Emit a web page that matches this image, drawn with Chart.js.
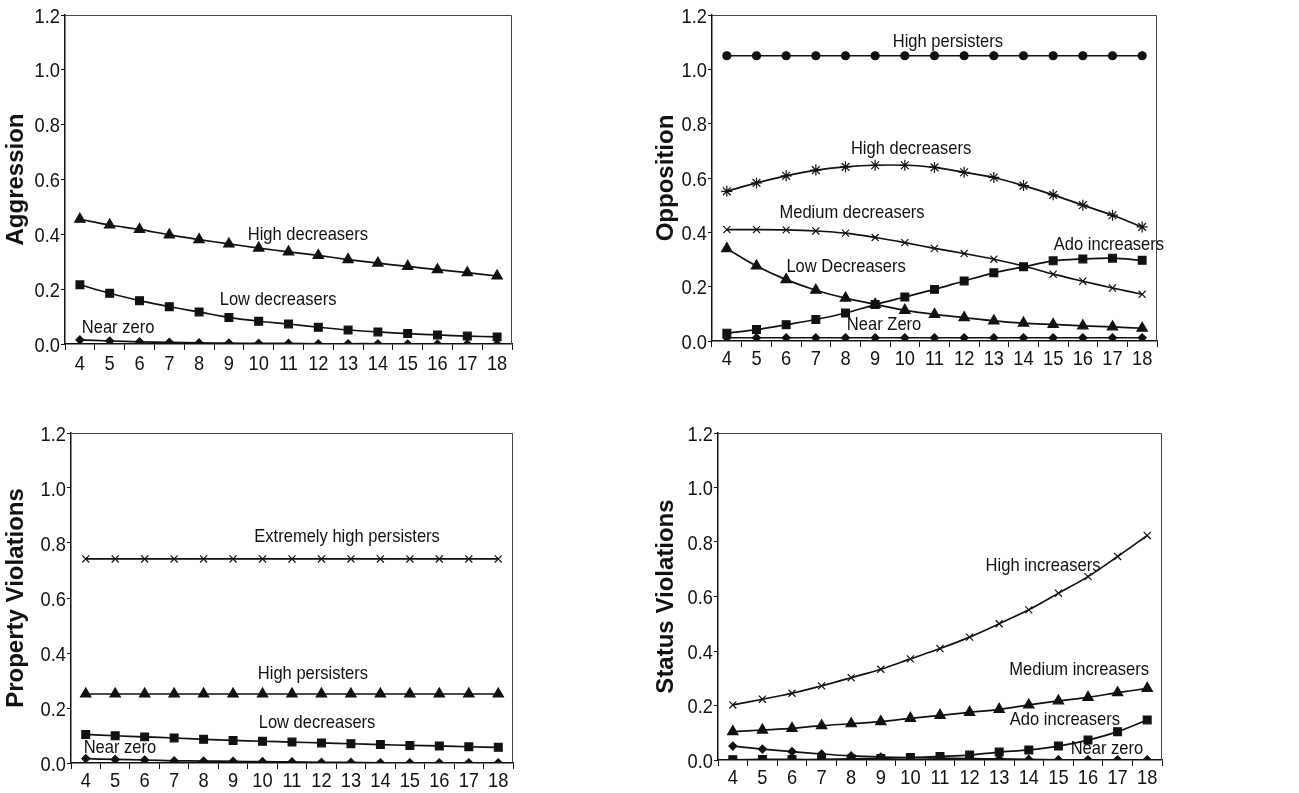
<!DOCTYPE html>
<html>
<head>
<meta charset="utf-8">
<script src="https://cdn.jsdelivr.net/npm/chart.js@4.4.1/dist/chart.umd.min.js"></script>
<style>
  html, body { margin: 0; padding: 0; background: #fff; }
  body { width: 1299px; height: 793px; position: relative; overflow: hidden; }
  .panel { position: absolute; }
</style>
</head>
<body>
<div class="panel" style="left:0;top:0"><canvas id="aggressionChart" width="650" height="400"></canvas></div>
<div class="panel" style="left:650px;top:0"><canvas id="oppositionChart" width="649" height="400"></canvas></div>
<div class="panel" style="left:0;top:400px"><canvas id="propertyChart" width="650" height="393"></canvas></div>
<div class="panel" style="left:650px;top:400px"><canvas id="statusChart" width="649" height="393"></canvas></div>

<script>
const ages = ['4', '5', '6', '7', '8', '9', '10', '11', '12', '13', '14', '15', '16', '17', '18'];
const yTicks = [0, 0.2, 0.4, 0.6, 0.8, 1.0, 1.2];

// Aggression
const aggHighDecreasers = [0.455, 0.434, 0.418, 0.398, 0.381, 0.365, 0.350, 0.336, 0.323, 0.308, 0.295, 0.283, 0.271, 0.260, 0.248];
const aggLowDecreasers = [0.216, 0.185, 0.158, 0.136, 0.117, 0.097, 0.083, 0.073, 0.061, 0.051, 0.044, 0.038, 0.033, 0.029, 0.026];
const aggNearZero = [0.015, 0.011, 0.008, 0.006, 0.004, 0.003, 0.002, 0.002, 0.001, 0.001, 0.001, 0, 0, 0, 0];

// Opposition
const oppHighPersisters = [1.05, 1.05, 1.05, 1.05, 1.05, 1.05, 1.05, 1.05, 1.05, 1.05, 1.05, 1.05, 1.05, 1.05, 1.05];
const oppHighDecreasers = [0.551, 0.582, 0.608, 0.629, 0.641, 0.647, 0.647, 0.639, 0.621, 0.602, 0.572, 0.538, 0.500, 0.463, 0.420];
const oppMediumDecreasers = [0.410, 0.410, 0.409, 0.405, 0.397, 0.381, 0.362, 0.341, 0.322, 0.301, 0.276, 0.246, 0.220, 0.195, 0.172];
const oppLowDecreasers = [0.340, 0.276, 0.226, 0.187, 0.158, 0.135, 0.113, 0.098, 0.086, 0.074, 0.066, 0.061, 0.056, 0.052, 0.047];
const oppAdoIncreasers = [0.029, 0.042, 0.060, 0.079, 0.103, 0.134, 0.162, 0.190, 0.221, 0.251, 0.273, 0.295, 0.302, 0.305, 0.297];
const oppNearZero = [0.012, 0.012, 0.012, 0.012, 0.012, 0.012, 0.012, 0.012, 0.012, 0.012, 0.012, 0.012, 0.012, 0.012, 0.012];

// Property violations
const propExtremelyHigh = [0.742, 0.742, 0.742, 0.742, 0.742, 0.742, 0.742, 0.742, 0.742, 0.742, 0.742, 0.742, 0.742, 0.742, 0.742];
const propHighPersisters = [0.251, 0.251, 0.251, 0.251, 0.251, 0.251, 0.251, 0.251, 0.251, 0.251, 0.251, 0.251, 0.251, 0.251, 0.251];
const propLowDecreasers = [0.104, 0.099, 0.095, 0.091, 0.086, 0.082, 0.079, 0.076, 0.073, 0.070, 0.067, 0.064, 0.062, 0.059, 0.057];
const propNearZero = [0.016, 0.013, 0.011, 0.008, 0.007, 0.006, 0.005, 0.004, 0.002, 0.002, 0.001, 0.001, 0.001, 0.001, 0.001];

// Status violations
const statHighIncreasers = [0.202, 0.223, 0.245, 0.272, 0.302, 0.333, 0.371, 0.409, 0.451, 0.500, 0.551, 0.612, 0.673, 0.747, 0.824];
const statMediumIncreasers = [0.104, 0.110, 0.116, 0.126, 0.133, 0.141, 0.153, 0.164, 0.175, 0.186, 0.202, 0.217, 0.230, 0.247, 0.263];
const statAdoIncreasers = [0.001, 0.002, 0.002, 0.002, 0.004, 0.006, 0.009, 0.013, 0.018, 0.029, 0.037, 0.051, 0.073, 0.104, 0.147];
const statNearZero = [0.051, 0.040, 0.031, 0.022, 0.015, 0.011, 0.009, 0.007, 0.005, 0.004, 0.002, 0.001, 0.001, 0.001, 0.001];

const INK = '#111111';
const TICK_FONT = '21px "Liberation Sans", Arial, sans-serif';
const LABEL_FONT = '19px "Liberation Sans", Arial, sans-serif';
const SQUEEZE = 0.87; // the original uses a condensed face

function series(data, style, radius) {
  return {
    data: data,
    borderColor: INK,
    backgroundColor: INK,
    borderWidth: 1.7,
    pointStyle: style,
    pointRadius: radius,
    pointBorderColor: INK,
    pointBackgroundColor: INK,
    pointBorderWidth: 1.2,
    tension: 0.3,
    fill: false
  };
}

function narrowText(ctx, text, x, y, align, font) {
  ctx.save();
  ctx.translate(x, y);
  ctx.scale(SQUEEZE, 1);
  ctx.font = font;
  ctx.textAlign = align;
  ctx.fillText(text, 0, 0);
  ctx.restore();
}

// frame round the plot area, condensed tick labels, curve names
const framePlugin = {
  id: 'frame',
  afterDatasetsDraw(chart) {
    const { ctx, chartArea: a, scales } = chart;
    const opts = chart.options.plugins.frame;
    ctx.save();
    ctx.strokeStyle = '#444';
    ctx.lineWidth = 1;
    ctx.beginPath();
    ctx.moveTo(a.left, a.top + 0.5);
    ctx.lineTo(a.right - 0.5, a.top + 0.5);
    ctx.lineTo(a.right - 0.5, a.bottom);
    ctx.stroke();

    ctx.fillStyle = INK;
    ctx.textBaseline = 'alphabetic';
    scales.y.ticks.forEach((t, i) => {
      narrowText(ctx, t.value.toFixed(1), a.left - 5, scales.y.getPixelForTick(i) + 7.6, 'right', TICK_FONT);
    });
    scales.x.ticks.forEach((t, i) => {
      narrowText(ctx, scales.x.getLabelForValue(t.value), scales.x.getPixelForTick(i), a.bottom + opts.drop, 'center', TICK_FONT);
    });

    ctx.textBaseline = 'middle';
    (opts.notes || []).forEach(n => {
      narrowText(ctx, n.text, scales.x.getPixelForValue(n.at), scales.y.getPixelForValue(n.level), 'center', LABEL_FONT);
    });
    ctx.restore();
  }
};

function makePanel(id, title, datasets, notes, box) {
  const ctx = document.getElementById(id).getContext('2d');
  return new Chart(ctx, {
    type: 'line',
    data: { labels: ages, datasets: datasets },
    plugins: [framePlugin],
    options: {
      responsive: false,
      animation: false,
      layout: { padding: { left: 0, right: box.right, top: box.top, bottom: 0 } },
      plugins: {
        legend: { display: false },
        tooltip: { enabled: false },
        frame: { notes: notes, drop: box.drop }
      },
      scales: {
        x: {
          type: 'category',
          offset: true,
          afterFit: s => { s.height = box.xh; },
          grid: { offset: true, drawOnChartArea: false, drawTicks: true, tickLength: 6, color: INK },
          border: { display: true, color: INK, width: 1.5 },
          ticks: { display: false, autoSkip: false, maxRotation: 0 }
        },
        y: {
          min: 0,
          max: 1.2,
          afterFit: s => { s.width = box.yw; },
          afterBuildTicks: s => { s.ticks = yTicks.map(v => ({ value: v })); },
          grid: { drawOnChartArea: false, drawTicks: true, tickLength: 4, color: INK },
          border: { display: true, color: INK, width: 1.5 },
          ticks: { display: false },
          title: {
            display: true,
            text: title,
            color: INK,
            font: { family: 'Liberation Sans, Arial, sans-serif', size: 24, weight: 'bold' },
            padding: { top: 2, bottom: 0 }
          }
        }
      }
    }
  });
}

makePanel('aggressionChart', 'Aggression', [
  series(aggHighDecreasers, 'triangle', 6),
  series(aggLowDecreasers, 'rect', 5.5),
  series(aggNearZero, 'rectRot', 4)
], [
  { text: 'High decreasers', at: 7.65, level: 0.40 },
  { text: 'Low decreasers', at: 6.65, level: 0.162 },
  { text: 'Near zero', at: 1.28, level: 0.058 }
], { yw: 65, right: 138, top: 15, xh: 56, drop: 26 });

makePanel('oppositionChart', 'Opposition', [
  series(oppHighPersisters, 'circle', 4),
  series(oppHighDecreasers, 'star', 5.5),
  series(oppMediumDecreasers, 'crossRot', 5),
  series(oppLowDecreasers, 'triangle', 6),
  series(oppAdoIncreasers, 'rect', 5.5),
  series(oppNearZero, 'rectRot', 4)
], [
  { text: 'High persisters', at: 7.45, level: 1.10 },
  { text: 'High decreasers', at: 6.21, level: 0.709 },
  { text: 'Medium decreasers', at: 4.22, level: 0.473 },
  { text: 'Ado increasers', at: 12.88, level: 0.356 },
  { text: 'Low Decreasers', at: 4.02, level: 0.273 },
  { text: 'Near Zero', at: 5.3, level: 0.058 }
], { yw: 62, right: 142, top: 15, xh: 59, drop: 24 });

makePanel('propertyChart', 'Property Violations', [
  series(propExtremelyHigh, 'crossRot', 5),
  series(propHighPersisters, 'triangle', 6),
  series(propLowDecreasers, 'rect', 5.5),
  series(propNearZero, 'rectRot', 4)
], [
  { text: 'Extremely high persisters', at: 8.87, level: 0.824 },
  { text: 'High persisters', at: 7.71, level: 0.325 },
  { text: 'Low decreasers', at: 7.85, level: 0.148 },
  { text: 'Near zero', at: 1.16, level: 0.055 }
], { yw: 71, right: 137, top: 33, xh: 30, drop: 24 });

makePanel('statusChart', 'Status Violations', [
  series(statHighIncreasers, 'crossRot', 5),
  series(statMediumIncreasers, 'triangle', 6),
  series(statAdoIncreasers, 'rect', 5.5),
  series(statNearZero, 'rectRot', 4)
], [
  { text: 'High increasers', at: 10.48, level: 0.714 },
  { text: 'Medium increasers', at: 11.7, level: 0.331 },
  { text: 'Ado increasers', at: 11.22, level: 0.147 },
  { text: 'Near zero', at: 12.64, level: 0.043 }
], { yw: 68, right: 137, top: 33, xh: 33, drop: 24 });
</script>
</body>
</html>
